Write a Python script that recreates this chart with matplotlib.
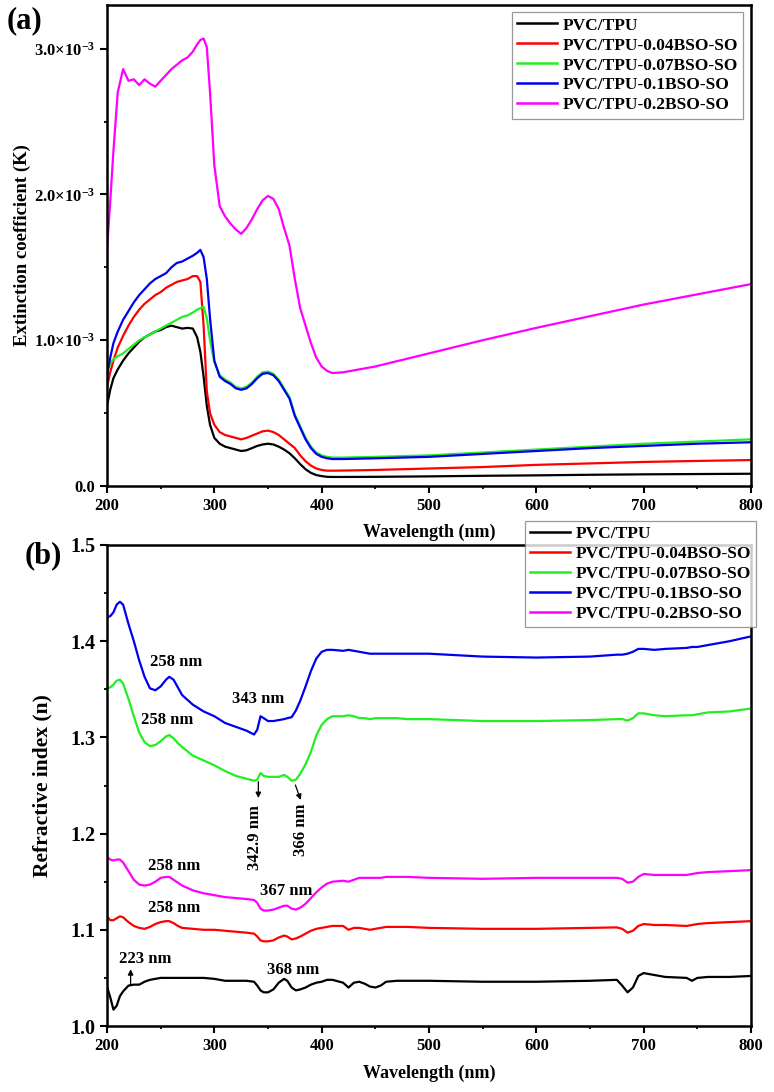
import numpy as np
import matplotlib
matplotlib.use("Agg")
import matplotlib.pyplot as plt
from matplotlib.ticker import MultipleLocator, FuncFormatter

plt.rcParams['font.family'] = ['Liberation Serif', 'DejaVu Serif']
plt.rcParams['font.weight'] = 'bold'
plt.rcParams['mathtext.fontset'] = 'custom'
plt.rcParams['mathtext.rm'] = 'Liberation Serif:bold'
plt.rcParams['mathtext.bf'] = 'Liberation Serif:bold'
plt.rcParams['mathtext.it'] = 'Liberation Serif:bold'

labels = ['PVC/TPU', 'PVC/TPU-0.04BSO-SO', 'PVC/TPU-0.07BSO-SO',
          'PVC/TPU-0.1BSO-SO', 'PVC/TPU-0.2BSO-SO']
colors = ['#000000', '#FF0000', '#22EE22', '#0000EE', '#FF00FF']

# ---------------- panel (a): extinction coefficient (units of 1e-3) -------------
wl_k = [200, 203, 206, 210, 215, 220, 225, 230, 235, 240, 245, 250, 255, 260, 265,
        270, 275, 280, 284, 287, 290, 293, 296, 300, 305, 310, 315, 320, 325, 330,
        335, 340, 345, 350, 355, 360, 365, 370, 375, 380, 385, 390, 395, 400, 405,
        410, 420, 450, 500, 550, 600, 650, 700, 750, 800]

k_pvc = [0.55, 0.66, 0.74, 0.80, 0.86, 0.91, 0.95, 0.99, 1.02, 1.04, 1.06, 1.07, 1.09,
         1.10, 1.09, 1.08, 1.085, 1.08, 1.02, 0.92, 0.75, 0.55, 0.42, 0.33, 0.29, 0.27,
         0.26, 0.25, 0.24, 0.245, 0.26, 0.275, 0.285, 0.29, 0.285, 0.27, 0.25, 0.225,
         0.19, 0.15, 0.115, 0.09, 0.075, 0.068, 0.063, 0.062, 0.062, 0.063, 0.066,
         0.07, 0.073, 0.077, 0.08, 0.082, 0.084]

k_004 = [0.68, 0.78, 0.86, 0.95, 1.03, 1.10, 1.16, 1.21, 1.25, 1.28, 1.31, 1.33, 1.36,
         1.38, 1.40, 1.41, 1.42, 1.44, 1.44, 1.40, 1.10, 0.65, 0.50, 0.42, 0.37, 0.35,
         0.34, 0.33, 0.32, 0.33, 0.345, 0.36, 0.375, 0.38, 0.37, 0.35, 0.32, 0.29,
         0.26, 0.21, 0.17, 0.14, 0.12, 0.11, 0.105, 0.105, 0.106, 0.11, 0.12, 0.13,
         0.145, 0.155, 0.165, 0.172, 0.178]

k_007 = [0.78, 0.84, 0.87, 0.89, 0.91, 0.94, 0.97, 1.00, 1.02, 1.04, 1.06, 1.08, 1.10,
         1.12, 1.14, 1.16, 1.17, 1.19, 1.21, 1.22, 1.23, 1.15, 1.00, 0.85, 0.76, 0.73,
         0.71, 0.68, 0.67, 0.68, 0.71, 0.75, 0.78, 0.785, 0.77, 0.73, 0.67, 0.61,
         0.49, 0.41, 0.33, 0.27, 0.23, 0.21, 0.20, 0.195, 0.195, 0.20, 0.21, 0.23,
         0.25, 0.27, 0.29, 0.305, 0.32]

k_01 = [0.76, 0.88, 0.98, 1.06, 1.14, 1.20, 1.26, 1.31, 1.35, 1.39, 1.42, 1.44, 1.46,
        1.50, 1.53, 1.54, 1.56, 1.58, 1.60, 1.62, 1.57, 1.42, 1.15, 0.86, 0.75, 0.72,
        0.70, 0.67, 0.66, 0.67, 0.70, 0.74, 0.77, 0.775, 0.76, 0.72, 0.66, 0.60,
        0.48, 0.40, 0.32, 0.26, 0.22, 0.20, 0.19, 0.185, 0.185, 0.19, 0.20, 0.22,
        0.24, 0.26, 0.275, 0.29, 0.30]

k_02 = [1.62, 1.95, 2.30, 2.70, 2.86, 2.78, 2.79, 2.75, 2.79, 2.76, 2.74, 2.78, 2.82,
        2.86, 2.89, 2.92, 2.94, 2.98, 3.03, 3.06, 3.07, 3.01, 2.70, 2.20, 1.92, 1.85,
        1.80, 1.76, 1.73, 1.77, 1.83, 1.90, 1.96, 1.99, 1.97, 1.90, 1.77, 1.65,
        1.42, 1.22, 1.10, 0.98, 0.88, 0.82, 0.79, 0.775, 0.78, 0.82, 0.91, 1.00,
        1.085, 1.165, 1.245, 1.315, 1.385]

# ---------------- panel (b): refractive index ----------------
wl_n = [200, 203, 206, 209, 212, 215, 220, 225, 230, 235, 240, 245, 250, 255, 258,
        262, 266, 270, 280, 290, 300, 310, 320, 330, 337, 340, 343, 346, 350, 355,
        360, 365, 368, 372, 376, 380, 385, 390, 395, 400, 405, 410, 420, 425, 430,
        435, 440, 445, 450, 455, 460, 470, 480, 500, 550, 600, 650, 675, 680, 685,
        690, 695, 700, 710, 720, 740, 745, 750, 760, 780, 800]

n_pvc = [1.041, 1.030, 1.017, 1.021, 1.031, 1.036, 1.042, 1.043, 1.043, 1.046, 1.048,
         1.049, 1.050, 1.050, 1.050, 1.050, 1.050, 1.050, 1.050, 1.050, 1.049, 1.047,
         1.047, 1.047, 1.046, 1.042, 1.037, 1.035, 1.035, 1.038, 1.045, 1.049, 1.047,
         1.040, 1.037, 1.038, 1.040, 1.043, 1.045, 1.046, 1.048, 1.048, 1.045, 1.040,
         1.045, 1.046, 1.044, 1.041, 1.040, 1.042, 1.046, 1.047, 1.047, 1.047, 1.046,
         1.046, 1.047, 1.048, 1.042, 1.035, 1.040, 1.052, 1.055, 1.053, 1.051, 1.050,
         1.047, 1.050, 1.051, 1.051, 1.052]

n_004 = [1.114, 1.110, 1.110, 1.112, 1.114, 1.113, 1.108, 1.104, 1.102, 1.101, 1.103,
         1.106, 1.108, 1.109, 1.109, 1.107, 1.104, 1.102, 1.101, 1.100, 1.100, 1.099,
         1.098, 1.097, 1.096, 1.093, 1.089, 1.088, 1.088, 1.089, 1.092, 1.094, 1.093,
         1.090, 1.091, 1.093, 1.096, 1.099, 1.101, 1.102, 1.103, 1.104, 1.104, 1.100,
         1.102, 1.102, 1.101, 1.100, 1.101, 1.102, 1.103, 1.103, 1.103, 1.102, 1.101,
         1.101, 1.102, 1.1025, 1.101, 1.097, 1.099, 1.104, 1.106, 1.105, 1.105, 1.104,
         1.105, 1.106, 1.107, 1.108, 1.109]

n_007 = [1.351, 1.352, 1.355, 1.359, 1.360, 1.356, 1.340, 1.322, 1.305, 1.295, 1.291,
         1.292, 1.296, 1.301, 1.3025, 1.299, 1.294, 1.290, 1.281, 1.276, 1.271, 1.265,
         1.260, 1.257, 1.255, 1.256, 1.263, 1.260, 1.259, 1.259, 1.259, 1.261, 1.259,
         1.255, 1.256, 1.262, 1.272, 1.285, 1.302, 1.313, 1.319, 1.322, 1.322, 1.323,
         1.322, 1.320, 1.320, 1.319, 1.320, 1.320, 1.320, 1.320, 1.319, 1.319, 1.317,
         1.317, 1.318, 1.319, 1.319, 1.3175, 1.320, 1.325, 1.325, 1.323, 1.322, 1.323,
         1.323, 1.324, 1.326, 1.327, 1.330]

n_01 = [1.425, 1.426, 1.430, 1.438, 1.441, 1.438, 1.418, 1.400, 1.380, 1.363, 1.351,
        1.349, 1.353, 1.360, 1.363, 1.360, 1.352, 1.344, 1.334, 1.327, 1.322, 1.315,
        1.311, 1.307, 1.303, 1.308, 1.322, 1.320, 1.317, 1.317, 1.318, 1.319, 1.320,
        1.321, 1.328, 1.338, 1.353, 1.369, 1.382, 1.389, 1.391, 1.391, 1.390, 1.391,
        1.390, 1.389, 1.388, 1.387, 1.387, 1.387, 1.387, 1.387, 1.387, 1.387, 1.384,
        1.383, 1.384, 1.386, 1.386, 1.387, 1.389, 1.392, 1.392, 1.391, 1.392, 1.393,
        1.394, 1.394, 1.396, 1.400, 1.405]

n_02 = [1.176, 1.173, 1.172, 1.173, 1.173, 1.170, 1.161, 1.152, 1.147, 1.146, 1.147,
        1.150, 1.154, 1.155, 1.155, 1.152, 1.149, 1.146, 1.141, 1.138, 1.136, 1.134,
        1.133, 1.132, 1.131, 1.128, 1.122, 1.120, 1.120, 1.121, 1.123, 1.125, 1.125,
        1.122, 1.121, 1.123, 1.127, 1.133, 1.139, 1.144, 1.148, 1.150, 1.151, 1.150,
        1.152, 1.154, 1.154, 1.154, 1.154, 1.154, 1.155, 1.155, 1.155, 1.154, 1.153,
        1.154, 1.154, 1.154, 1.153, 1.149, 1.150, 1.155, 1.158, 1.157, 1.157, 1.157,
        1.158, 1.159, 1.160, 1.161, 1.162]

# annotations: (text, x, y, rotation)
ann_text = ['258 nm', '343 nm', '258 nm', '342.9 nm', '366 nm', '258 nm', '367 nm',
            '258 nm', '223 nm', '368 nm']
ann_x = [264, 341, 256, 337.5, 380.5, 263, 366.5, 262.5, 235.5, 373]
ann_y = [1.378, 1.340, 1.318, 1.1955, 1.204, 1.166, 1.140, 1.123, 1.0696, 1.058]
ann_rot = [0, 0, 0, 90, 90, 0, 0, 0, 0, 0]
# arrows: (x_start, y_start, x_end, y_end)
arr_x0 = [341, 375.5, 222]
arr_y0 = [1.254, 1.2505, 1.0426]
arr_x1 = [341, 380.5, 222]
arr_y1 = [1.237, 1.235, 1.059]

fig = plt.figure(figsize=(7.74, 10.92), dpi=100)
ax1 = fig.add_axes([107/774, 1-486/1092, 644/774, 481/1092])
ax2 = fig.add_axes([107/774, 1-1026/1092, 644/774, 481/1092])

k_all = [k_pvc, k_004, k_007, k_01, k_02]
n_all = [n_pvc, n_004, n_007, n_01, n_02]
for vals, c, lab in zip(k_all, colors, labels):
    ax1.plot(wl_k, np.array(vals) * 1e-3, color=c, lw=1.6, label=lab)
for vals, c, lab in zip(n_all, colors, labels):
    ax2.plot(wl_n, vals, color=c, lw=1.6, label=lab)

for ax in (ax1, ax2):
    ax.set_xlim(200, 800)
    ax.xaxis.set_major_locator(MultipleLocator(100))
    ax.xaxis.set_minor_locator(MultipleLocator(50))
    for s in ax.spines.values():
        s.set_linewidth(1.8)
    ax.tick_params(which='major', direction='out', length=5, width=1.5,
                   top=False, right=False)
    ax.tick_params(which='minor', direction='out', length=2.5, width=1.3,
                   top=False, right=False)
    ax.set_xlabel('Wavelength (nm)', fontsize=13, fontweight='bold')

ax1.set_ylim(0, 3.3e-3)
ax1.yaxis.set_major_locator(MultipleLocator(1e-3))
ax1.yaxis.set_minor_locator(MultipleLocator(0.5e-3))


def kfmt(v, pos):
    if abs(v) < 1e-9:
        return '0.0'
    return r'$\mathbf{%.1f{\times}10^{-3}}$' % (v * 1e3)


ax1.yaxis.set_major_formatter(FuncFormatter(kfmt))
ax1.tick_params(axis='both', which='major', labelsize=12)
ax1.set_ylabel('Extinction coefficient (K)', fontsize=13.5, fontweight='bold')
ax1.yaxis.set_label_coords(-0.118, 0.5)
ax1.xaxis.set_label_coords(0.5, -0.078)

ax2.set_ylim(1.0, 1.5)
ax2.yaxis.set_major_locator(MultipleLocator(0.1))
ax2.yaxis.set_minor_locator(MultipleLocator(0.05))
ax2.yaxis.set_major_formatter(FuncFormatter(lambda v, p: '%.1f' % v))
ax2.tick_params(axis='y', which='major', labelsize=14.5)
ax2.tick_params(axis='x', which='major', labelsize=12)
ax2.set_ylabel('Refractive index (n)', fontsize=15.5, fontweight='bold')
ax2.yaxis.set_label_coords(-0.084, 0.5)
ax2.xaxis.set_label_coords(0.5, -0.080)

for t, x, y, r in zip(ann_text, ann_x, ann_y, ann_rot):
    ax2.text(x, y, t, rotation=r, ha='center', va='center', fontsize=12,
             fontweight='bold')
for x0, y0, x1, y1 in zip(arr_x0, arr_y0, arr_x1, arr_y1):
    ax2.annotate('', xy=(x1, y1), xytext=(x0, y0),
                 arrowprops=dict(arrowstyle='-|>', color='black', lw=0.9,
                                 mutation_scale=8, shrinkA=0, shrinkB=0))

leg_kw = dict(fontsize=12.5, frameon=True, fancybox=False, handlelength=2.3,
              handletextpad=0.3, labelspacing=0.22, borderpad=0.3, borderaxespad=0)
lg1 = ax1.legend(loc='upper right', bbox_to_anchor=(0.988, 0.985), **leg_kw)
lg2 = ax2.legend(loc='upper right', bbox_to_anchor=(1.008, 1.05), **leg_kw)
for lg in (lg1, lg2):
    lg.get_frame().set_edgecolor('#808080')
    lg.get_frame().set_linewidth(0.9)
    for ln in lg.get_lines():
        ln.set_linewidth(1.8)

fig.text(7/774, 1-6/1092, '(a)', fontsize=22, fontweight='bold', va='top', ha='left')
fig.text(25/774, 1-541/1092, '(b)', fontsize=22, fontweight='bold', va='top', ha='left')

fig.savefig('out.png', dpi=100)
